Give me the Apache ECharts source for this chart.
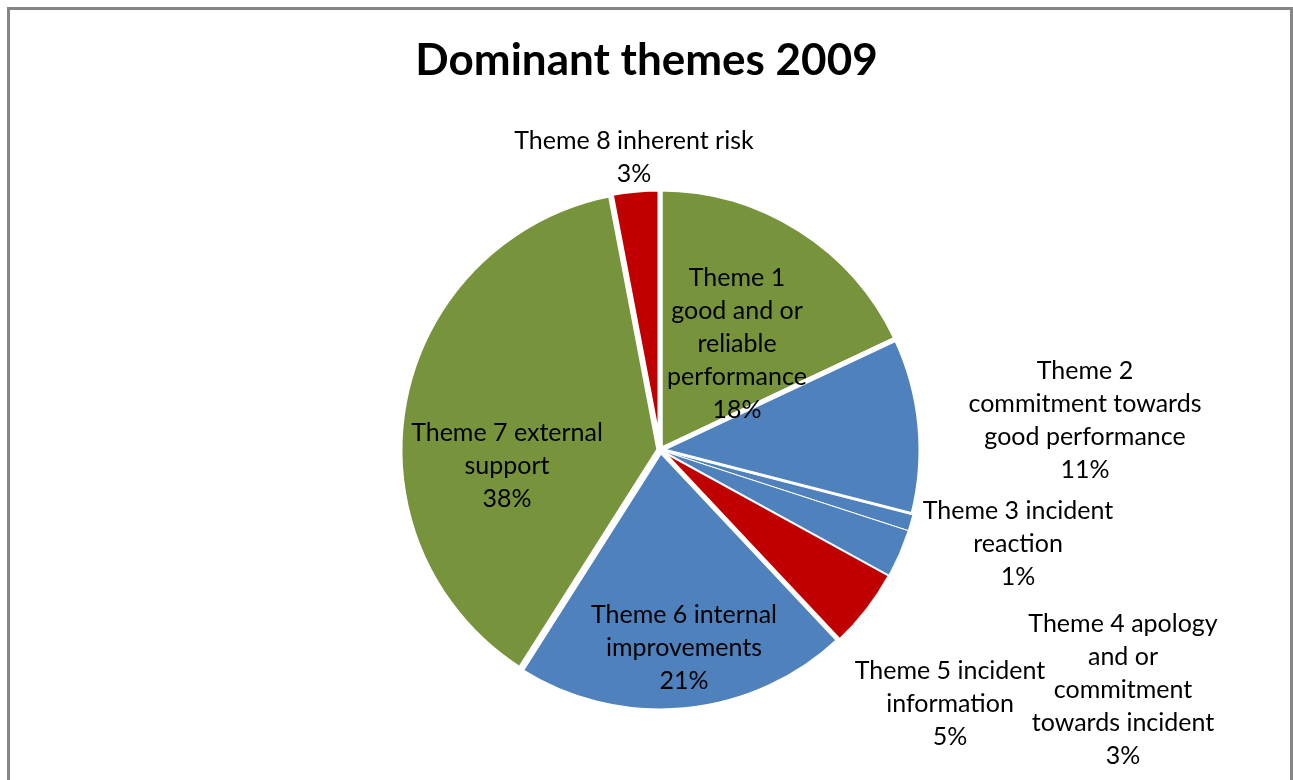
<!DOCTYPE html>
<html>
<head>
<meta charset="utf-8">
<script src="https://cdn.jsdelivr.net/npm/echarts@6/dist/echarts.min.js"></script>
<style>
html,body{margin:0;padding:0;background:#fff;overflow:hidden;}
#frame{position:absolute;left:7px;top:7px;width:1286px;height:900px;border:3px solid #868686;box-sizing:border-box;}
#chart{position:absolute;left:0;top:0;width:1293px;height:780px;}
</style>
</head>
<body>
<div id="frame"></div>
<div id="chart"></div>
<script>
var categories = [
  'Theme 1 good and or reliable performance',
  'Theme 2 commitment towards good performance',
  'Theme 3 incident reaction',
  'Theme 4 apology and or commitment towards incident',
  'Theme 5 incident information',
  'Theme 6 internal improvements',
  'Theme 7 external support',
  'Theme 8 inherent risk'
];
var labelTexts = [
  'Theme 1\ngood and or\nreliable\nperformance',
  'Theme 2\ncommitment towards\ngood performance',
  'Theme 3 incident\nreaction',
  'Theme 4 apology\nand or\ncommitment\ntowards incident',
  'Theme 5 incident\ninformation',
  'Theme 6 internal\nimprovements',
  'Theme 7 external\nsupport',
  'Theme 8 inherent risk'
];
var values = [18, 11, 1, 3, 5, 21, 38, 3];
var colors = ['#77933C', '#4F81BD', '#4F81BD', '#4F81BD', '#C00000', '#4F81BD', '#77933C', '#C00000'];
var borderWidths = [5, 5, 1, 1, 2, 5, 7, 5];
var labelPos = [[737,344],[1085,420],[1018,544],[1123,690],[950,704],[684,648],[507,466],[634,157]];

var chart = echarts.init(document.getElementById('chart'), null, {renderer:'canvas'});
var data = values.map(function(v, i){
  return {
    name: categories[i],
    value: v,
    itemStyle: {color: colors[i], borderColor: '#fff', borderWidth: borderWidths[i]}
  };
});
chart.setOption({
  animation: false,
  title: {
    text: 'Dominant themes 2009',
    left: 'center',
    top: 34,
    textStyle: {fontFamily: 'Lato', fontWeight: 'bold', fontSize: 44, color: '#000'}
  },
  series: [{
    type: 'pie',
    center: [660, 450],
    radius: [0, 261],
    startAngle: 90,
    clockwise: true,
    selectedMode: false,
    emphasis: {disabled: true},
    label: {
      show: true,
      position: 'inside',
      fontFamily: 'Lato',
      fontSize: 25,
      lineHeight: 33,
      color: '#000',
      align: 'center',
      verticalAlign: 'middle',
      formatter: function(p){ return labelTexts[p.dataIndex] + '\n' + p.value + '%'; }
    },
    labelLine: {show: false},
    labelLayout: function(p){
      var pos = labelPos[p.dataIndex];
      return {x: pos[0], y: pos[1], align: 'center', verticalAlign: 'middle'};
    },
    data: data
  }]
});
</script>
</body>
</html>
